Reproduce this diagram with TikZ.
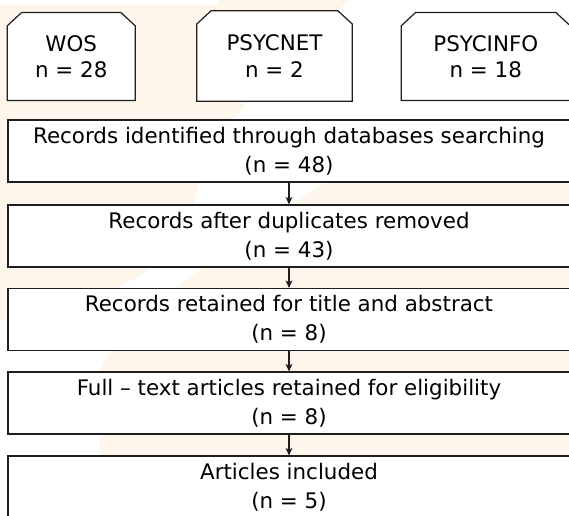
\documentclass[tikz,border=0pt]{standalone}
\usepackage{fontspec}
\setmainfont{DejaVu Sans}
\usetikzlibrary{arrows.meta}
\usetikzlibrary{backgrounds}

\definecolor{wmark}{RGB}{254,246,234}
\definecolor{inkline}{RGB}{30,30,30}

\begin{document}
\begin{tikzpicture}[x=0.75pt,y=0.75pt,yscale=-1,xscale=1,
  txt/.style={font=\fontsize{16.05}{21.6}\selectfont,align=center,inner sep=0pt},
  dbbox/.style={txt,minimum height=65.6pt},
  stagebox/.style={txt,draw=inkline,line width=0.9pt,fill=white,minimum width=421.5pt,minimum height=46.5pt},
  flow/.style={draw=inkline,line width=0.9pt,-{Stealth[length=5.5pt,width=5pt,inset=1.2pt]}}]
\useasboundingbox (0,0) rectangle (569,516);

% Text Node (databases)
\node[dbbox,minimum width=95.6pt] (wos) at (71.25,56.5) {WOS\\[-2pt]n = 28};
\node[dbbox,minimum width=116.25pt,minimum height=67.5pt] (psycnet) at (274.5,56) {PSYCNET\\[-2pt]n = 2};
\node[dbbox,minimum width=126.4pt] (psycinfo) at (485.75,56.5) {PSYCINFO\\[-2pt]n = 18};

% Text Node (stages)
\node[stagebox] (ident) at (289,151) {Records identified through databases searching\\(n = 48)};
\node[stagebox] (dedup) at (289,236) {Records after duplicates removed\\(n = 43)};
\node[stagebox] (titles) at (289,319.5) {Records retained for title and abstract\\(n = 8)};
\node[stagebox] (fulltext) at (289,403) {Full – text articles retained for eligibility\\(n = 8)};
\node[stagebox] (incl) at (289,487) {Articles included\\(n = 5)};

%Straight Lines
\foreach \a/\b in {ident/dedup,dedup/titles,titles/fulltext,fulltext/incl}
  \draw[flow] (\a) -- (\b);

\begin{scope}[on background layer]
%Shape: faint backdrop
\fill[wmark] (0,5) -- (218,5) -- (218,0) -- (350,0) .. controls (255,80) and (205,150) .. (196,195) .. controls (185,250) and (140,300) .. (0,320) -- cycle;
\fill[wmark] (569,140) -- (330,180) .. controls (260,225) and (150,300) .. (110,350) -- (100,372) -- (100,516) -- (569,516) -- cycle;
%Shape: Chamfered Rect
\foreach \b in {wos,psycnet,psycinfo}
  \draw[draw=inkline,line width=0.9pt,fill=white] (\b.south west) -- ([yshift=10pt]\b.north west) -- ([xshift=10.8pt]\b.north west) -- ([xshift=-10.8pt]\b.north east) -- ([yshift=10pt]\b.north east) -- (\b.south east) -- cycle;
\end{scope}

\end{tikzpicture}
\end{document}
